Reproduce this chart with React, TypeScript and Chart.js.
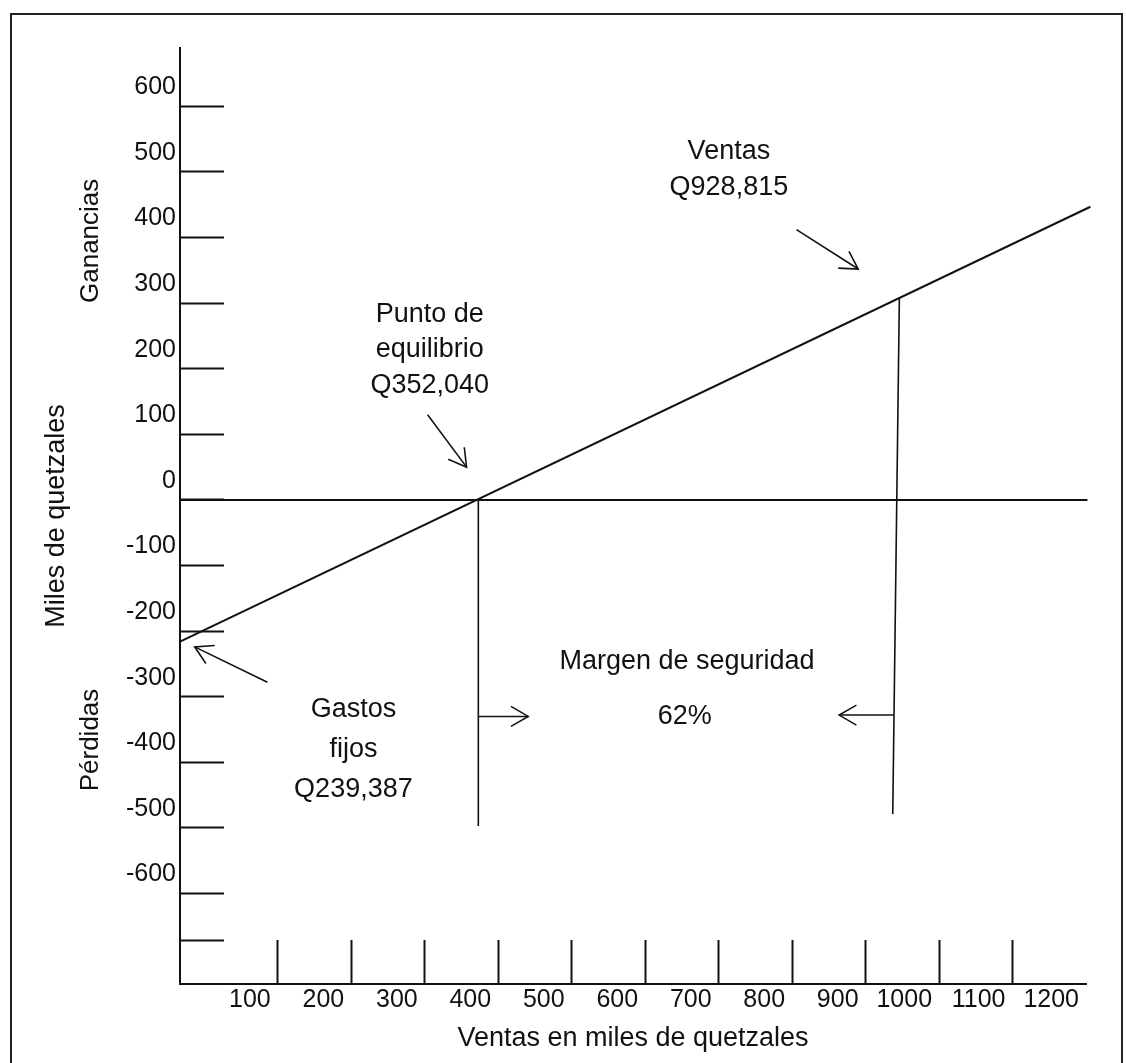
import React, { useEffect, useRef } from 'react';
import { Chart, registerables } from 'chart.js';

Chart.register(...registerables);

// ---------- data (thousands of quetzales) ----------
const X_MIN = -33;
const X_MAX = 1200;
const Y_MIN = -738;
const Y_MAX = 689;

const X_TICKS = [100, 200, 300, 400, 500, 600, 700, 800, 900, 1000, 1100, 1200];
const X_TICK_LABELS = ['100', '200', '300', '400', '500', '600', '700', '800', '900', '1000', '1100', '1200'];

const Y_TICKS = [600, 500, 400, 300, 200, 100, 0, -100, -200, -300, -400, -500, -600, -672];
const Y_TICK_LABELS = ['600', '500', '400', '300', '200', '100', '0', '-100', '-200', '-300', '-400', '-500', '-600', ''];

// result line (ganancia / pérdida according to sales)
const RESULT_X = [-33, 1206];
const RESULT_Y = [-216, 447];

// zero line
const ZERO_X = [-33, 1202];
const ZERO_Y = [0, 0];

// break-even vertical
const BREAKEVEN_X = [373, 373];
const BREAKEVEN_Y = [0, -497];

// sales vertical
const SALES_X = [946, 937];
const SALES_Y = [308, -479];

// margin of safety arrows
const MARGIN_LEFT_X = [373, 441];
const MARGIN_LEFT_Y = [-330, -330];
const MARGIN_RIGHT_X = [938, 864];
const MARGIN_RIGHT_Y = [-328, -328];

// pointer arrows
const VENTAS_ARROW_X = [806, 890];
const VENTAS_ARROW_Y = [412, 352];
const PUNTO_ARROW_X = [304, 357];
const PUNTO_ARROW_Y = [130, 50];
const GASTOS_ARROW_X = [86, -13];
const GASTOS_ARROW_Y = [-278, -224];

// text notes (anchored in data units)
const NOTE_TEXTS = ['Ventas', 'Q928,815', 'Punto de', 'equilibrio', 'Q352,040', 'Gastos', 'fijos', 'Q239,387', 'Margen de seguridad', '62%'];
const NOTE_X = [714, 714, 307, 307, 307, 203, 203, 203, 657, 654];
const NOTE_Y = [531, 477, 282, 229, 175, -320, -381, -442, -246, -331];

const SIDE_TEXTS = ['Ganancias', 'Pérdidas'];
const SIDE_Y = [395, -366];

// ---------- styles ----------
const FONT = '"Liberation Sans", Arial, Helvetica, sans-serif';
const INK = '#111111';

const pts = (xs: number[], ys: number[]) => xs.map((x, i) => ({ x, y: ys[i] }));

const lineDs = (data: { x: number; y: number }[], width: number, arrow = false) => ({
  type: 'line' as const,
  data,
  borderColor: INK,
  borderWidth: width,
  pointRadius: 0,
  fill: false,
  tension: 0,
  clip: false as any,
  arrowHead: arrow,
});

const annotations = {
  id: 'annotations',
  beforeDraw(chart: any) {
    const ctx = chart.ctx;
    ctx.save();
    ctx.strokeStyle = '#222';
    ctx.lineWidth = 2;
    ctx.strokeRect(11, 14, 1111, 1100);
    ctx.restore();
  },
  afterDatasetsDraw(chart: any) {
    const ctx = chart.ctx;
    const xs = chart.scales.x;
    const ys = chart.scales.y;
    ctx.save();
    chart.data.datasets.forEach((ds: any) => {
      if (!ds.arrowHead) return;
      const d = ds.data;
      const a = d[d.length - 2];
      const b = d[d.length - 1];
      const x1 = xs.getPixelForValue(a.x);
      const y1 = ys.getPixelForValue(a.y);
      const x2 = xs.getPixelForValue(b.x);
      const y2 = ys.getPixelForValue(b.y);
      const ang = Math.atan2(y1 - y2, x1 - x2);
      const L = 20;
      const sp = Math.PI / 6;
      ctx.strokeStyle = ds.borderColor;
      ctx.lineWidth = ds.borderWidth;
      ctx.beginPath();
      ctx.moveTo(x2 + L * Math.cos(ang + sp), y2 + L * Math.sin(ang + sp));
      ctx.lineTo(x2, y2);
      ctx.lineTo(x2 + L * Math.cos(ang - sp), y2 + L * Math.sin(ang - sp));
      ctx.stroke();
    });

    ctx.fillStyle = INK;
    ctx.font = `27px ${FONT}`;
    ctx.textAlign = 'center';
    ctx.textBaseline = 'middle';
    NOTE_TEXTS.forEach((t, i) => {
      ctx.fillText(t, xs.getPixelForValue(NOTE_X[i]), ys.getPixelForValue(NOTE_Y[i]));
    });

    ctx.font = `26px ${FONT}`;
    SIDE_TEXTS.forEach((t, i) => {
      ctx.save();
      ctx.translate(ys.left + 91, ys.getPixelForValue(SIDE_Y[i]));
      ctx.rotate(-Math.PI / 2);
      ctx.fillText(t, 0, 0);
      ctx.restore();
    });
    ctx.restore();
  },
};

export default function App() {
  const ref = useRef<HTMLCanvasElement | null>(null);

  useEffect(() => {
    if (!ref.current) return;
    const chart = new Chart(ref.current, {
      type: 'line',
      data: {
        datasets: [
          lineDs(pts(ZERO_X, ZERO_Y), 2),
          lineDs(pts(RESULT_X, RESULT_Y), 2),
          lineDs(pts(BREAKEVEN_X, BREAKEVEN_Y), 1.6),
          lineDs(pts(SALES_X, SALES_Y), 1.6),
          lineDs(pts(MARGIN_LEFT_X, MARGIN_LEFT_Y), 1.5, true),
          lineDs(pts(MARGIN_RIGHT_X, MARGIN_RIGHT_Y), 1.5, true),
          lineDs(pts(VENTAS_ARROW_X, VENTAS_ARROW_Y), 1.6, true),
          lineDs(pts(PUNTO_ARROW_X, PUNTO_ARROW_Y), 1.6, true),
          lineDs(pts(GASTOS_ARROW_X, GASTOS_ARROW_Y), 1.6, true),
        ] as any,
      },
      options: {
        animation: false,
        responsive: false,
        devicePixelRatio: 1,
        layout: { padding: { top: 48, right: 40, bottom: 0, left: 0 } },
        plugins: { legend: { display: false }, tooltip: { enabled: false } },
        events: [],
        scales: {
          x: {
            type: 'linear',
            min: X_MIN,
            max: X_MAX,
            bounds: 'data',
            afterBuildTicks: (s: any) => {
              s.ticks = X_TICKS.map((v) => ({ value: v }));
            },
            afterFit: (s: any) => {
              s.height = 79;
              s.paddingLeft = 0;
              s.paddingRight = 0;
              s.paddingTop = 0;
              s.paddingBottom = 0;
            },
            grid: {
              drawOnChartArea: false,
              drawTicks: true,
              tickLength: -44,
              tickWidth: 2,
              tickColor: (c: any) => (c.tick && c.tick.value === 1200 ? 'rgba(0,0,0,0)' : INK),
            },
            border: { display: true, color: INK, width: 2 },
            ticks: {
              autoSkip: false,
              maxRotation: 0,
              minRotation: 0,
              align: 'end',
              labelOffset: -7,
              padding: 45,
              color: INK,
              font: { family: FONT, size: 25 },
              callback: (v: any) => {
                const i = X_TICKS.indexOf(Number(v));
                return i >= 0 ? X_TICK_LABELS[i] : '';
              },
            },
            title: {
              display: true,
              text: 'Ventas en miles de quetzales',
              color: INK,
              font: { family: FONT, size: 27 },
              padding: { top: 0, bottom: 8 },
            },
          },
          y: {
            type: 'linear',
            min: Y_MIN,
            max: Y_MAX,
            bounds: 'data',
            afterBuildTicks: (s: any) => {
              s.ticks = Y_TICKS.map((v) => ({ value: v }));
            },
            afterFit: (s: any) => {
              s.width = 180;
              s.paddingLeft = 0;
              s.paddingRight = 0;
              s.paddingTop = 0;
              s.paddingBottom = 0;
            },
            grid: {
              drawOnChartArea: false,
              drawTicks: true,
              tickLength: -44,
              tickWidth: 2,
              tickColor: INK,
            },
            border: { display: true, color: INK, width: 2 },
            ticks: {
              autoSkip: false,
              labelOffset: -19,
              padding: 48,
              color: INK,
              font: { family: FONT, size: 25 },
              callback: (v: any) => {
                const i = Y_TICKS.indexOf(Number(v));
                return i >= 0 ? Y_TICK_LABELS[i] : '';
              },
            },
            title: {
              display: true,
              text: 'Miles de quetzales',
              color: INK,
              font: { family: FONT, size: 27 },
              padding: { top: 40, bottom: 0 },
            },
          },
        },
      } as any,
      plugins: [annotations],
    });
    return () => chart.destroy();
  }, []);

  return (
    <div style={{ position: 'absolute', left: 0, top: 0, width: 1126, height: 1063, background: '#fff' }}>
      <canvas ref={ref} width={1126} height={1063} style={{ display: 'block', width: 1126, height: 1063 }} />
    </div>
  );
}
